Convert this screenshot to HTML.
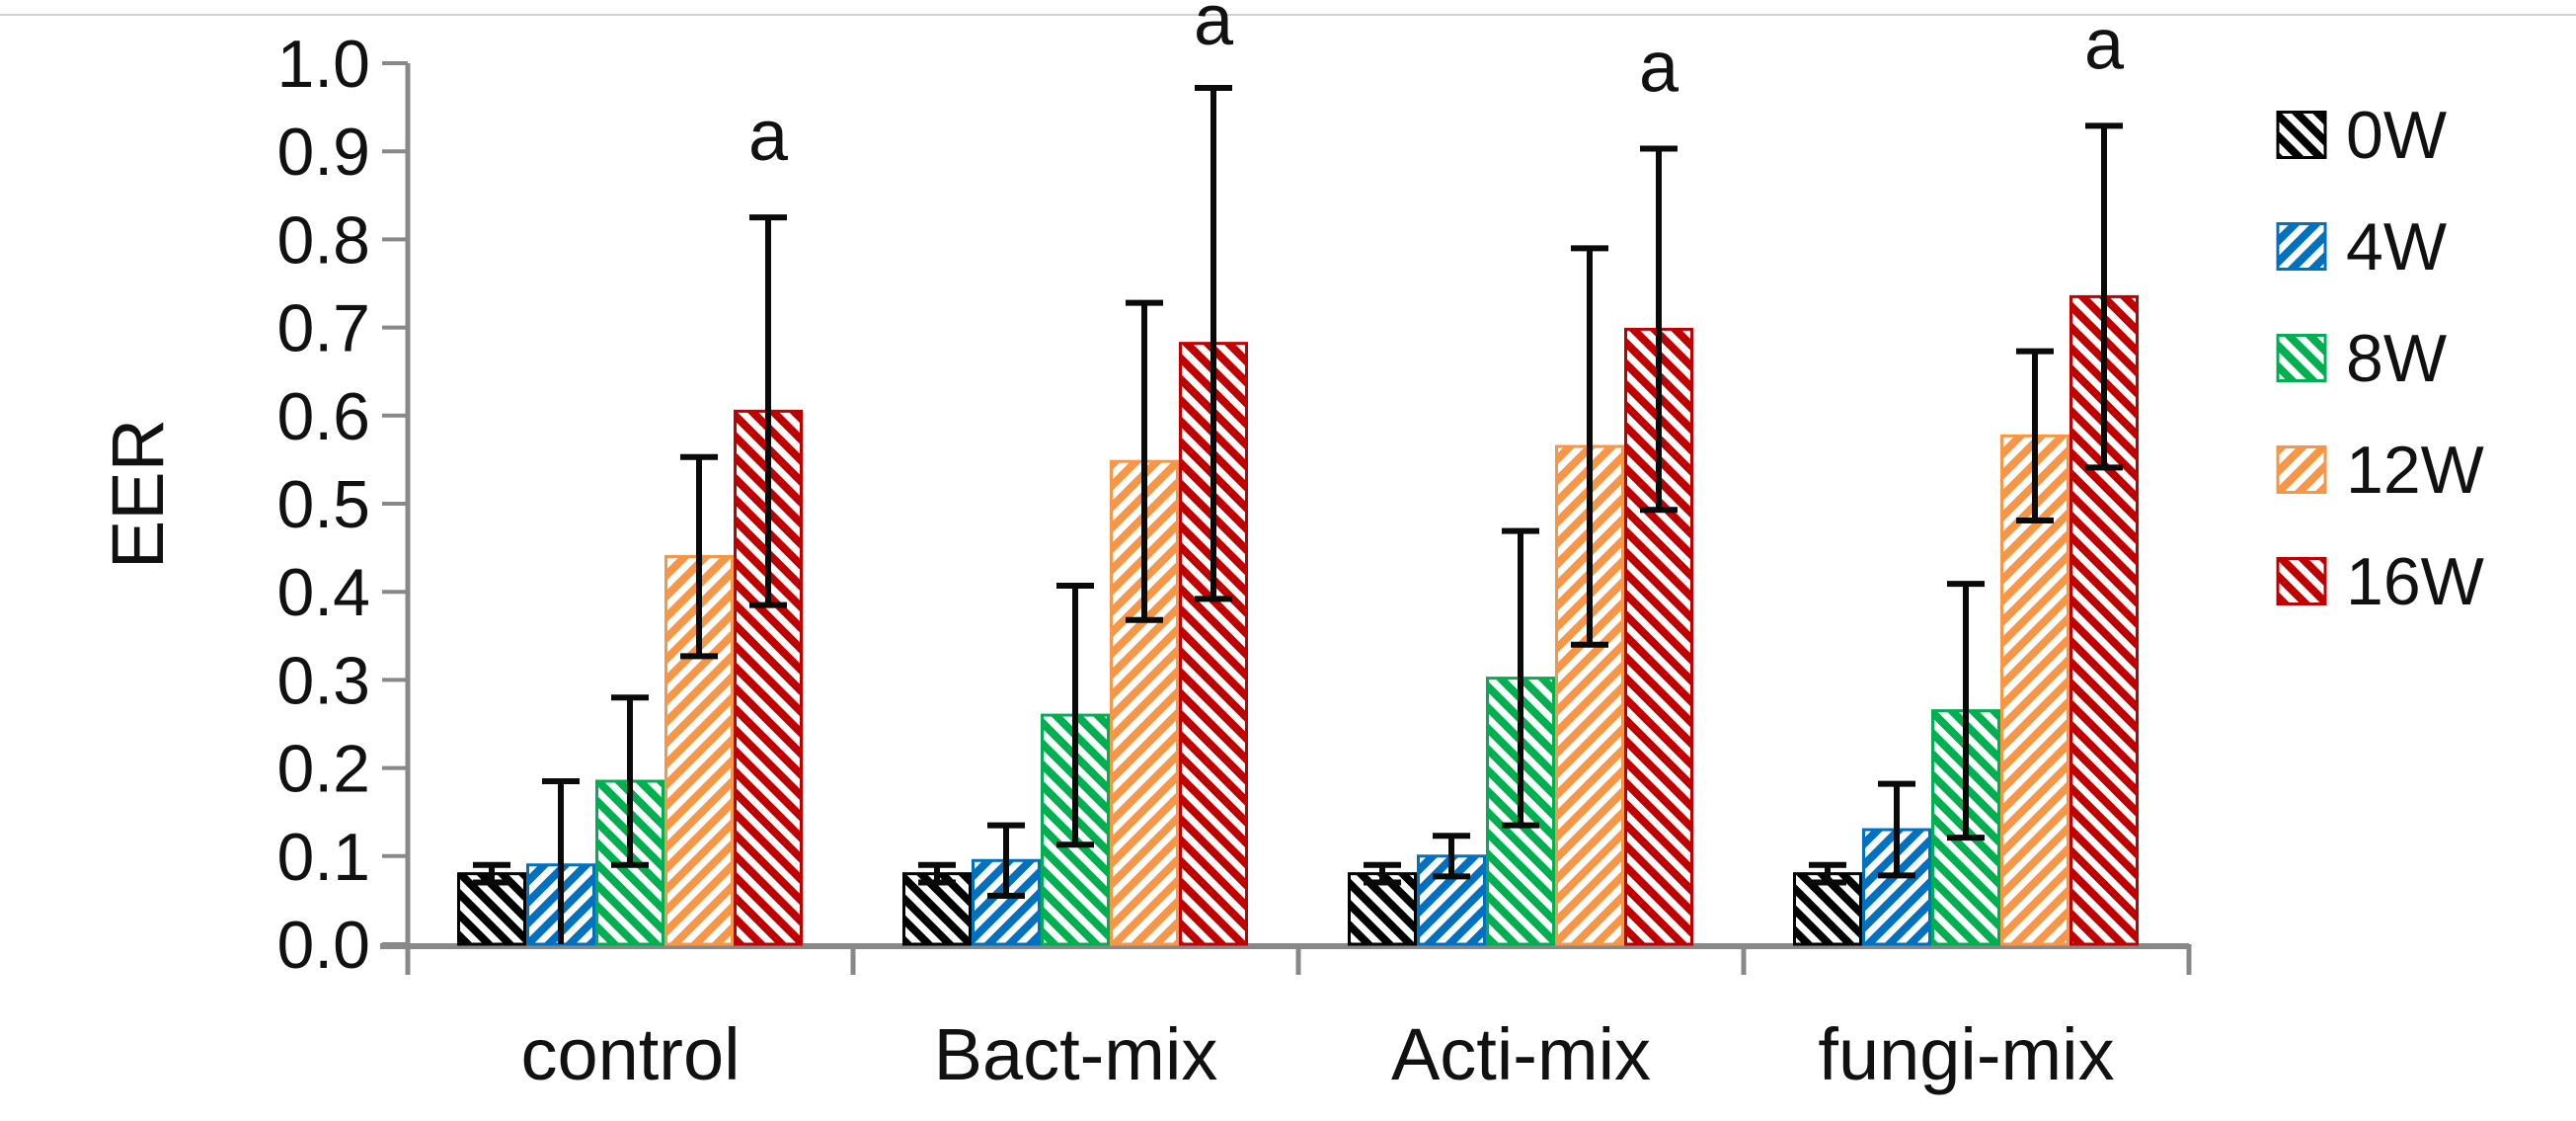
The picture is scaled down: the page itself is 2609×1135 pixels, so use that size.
<!DOCTYPE html>
<html><head><meta charset="utf-8">
<style>
html,body{margin:0;padding:0;background:#fff;}
svg{display:block;font-family:"Liberation Sans",sans-serif;}
</style></head>
<body>
<svg id="chart" width="2609" height="1135" viewBox="0 0 2609 1135" xmlns="http://www.w3.org/2000/svg">
<defs>
  <pattern id="p0" patternUnits="userSpaceOnUse" width="15" height="15" patternTransform="rotate(-45)"><rect width="15" height="15" fill="#fff"/><rect width="8" height="15" fill="#000"/></pattern>
  <pattern id="p1" patternUnits="userSpaceOnUse" width="15" height="15" patternTransform="rotate(45)"><rect width="15" height="15" fill="#fff"/><rect width="8" height="15" fill="#0070C0"/></pattern>
  <pattern id="p2" patternUnits="userSpaceOnUse" width="15" height="15" patternTransform="rotate(-45)"><rect width="15" height="15" fill="#fff"/><rect width="8" height="15" fill="#00B050"/></pattern>
  <pattern id="p3" patternUnits="userSpaceOnUse" width="15" height="15" patternTransform="rotate(45)"><rect width="15" height="15" fill="#fff"/><rect width="8" height="15" fill="#F79646"/></pattern>
  <pattern id="p4" patternUnits="userSpaceOnUse" width="15" height="15" patternTransform="rotate(-45)"><rect width="15" height="15" fill="#fff"/><rect width="8" height="15" fill="#C00000"/></pattern>
</defs>
<line x1="0" y1="15" x2="2609" y2="15" stroke="#d0d0d0" stroke-width="2"/>
<g id="g"></g>
</svg>
<script>
const categories = ["control", "Bact-mix", "Acti-mix", "fungi-mix"];
const seriesNames = ["0W", "4W", "8W", "12W", "16W"];
const v0W = [0.08, 0.08, 0.08, 0.08];
const v4W = [0.09, 0.095, 0.10, 0.13];
const v8W = [0.185, 0.26, 0.302, 0.265];
const v12W = [0.44, 0.548, 0.565, 0.577];
const v16W = [0.605, 0.682, 0.698, 0.735];
const e0W = [0.01, 0.01, 0.01, 0.01];
const e4W = [0.095, 0.04, 0.023, 0.052];
const e8W = [0.095, 0.147, 0.167, 0.144];
const e12W = [0.113, 0.18, 0.225, 0.096];
const e16W = [0.22, 0.29, 0.205, 0.194];
const sigLabels = ["a", "a", "a", "a"];
const yTicks = ["0.0","0.1","0.2","0.3","0.4","0.5","0.6","0.7","0.8","0.9","1.0"];

const values = [v0W, v4W, v8W, v12W, v16W];
const errs = [e0W, e4W, e8W, e12W, e16W];
const colors = ["#000000", "#0070C0", "#00B050", "#F79646", "#C00000"];
const NS = "http://www.w3.org/2000/svg";
const g = document.getElementById("g");
const X0 = 413, CW = 451, BW = 70, PAD = 50;
const Y0 = 956, YH = 892;
function y(v){ return Y0 - v * YH; }
function xBar(ci, si){ return X0 + ci * CW + PAD + si * BW; }
function mk(tag, attrs){ const e = document.createElementNS(NS, tag); for (const k in attrs) e.setAttribute(k, attrs[k]); g.appendChild(e); return e; }

let ax = mk("line", {x1: X0, y1: y(1.0), x2: X0, y2: Y0 + 2, stroke: "#888", "stroke-width": 5});


yTicks.forEach((t, i) => {
  const v = parseFloat(t);
  const tk = mk("line", {x1: X0 - 26, y1: y(v), x2: X0, y2: y(v), stroke: "#888", "stroke-width": 4});
  
  
  const tx = mk("text", {x: 375, y: y(v) + 24, "text-anchor": "end", "font-size": 68, fill: "#111"});
  tx.textContent = t;
  
  
});
let xa = mk("line", {x1: 385, y1: Y0 + 2, x2: X0 + CW * categories.length, y2: Y0 + 2, stroke: "#888", "stroke-width": 6});


for (let i = 0; i <= categories.length; i++) {
  const tk = mk("line", {x1: X0 + i * CW, y1: Y0, x2: X0 + i * CW, y2: Y0 + 31, stroke: "#888", "stroke-width": 5});
  
  
}
categories.forEach((c, i) => {
  const tx = mk("text", {x: X0 + i * CW + CW / 2, y: 1093, "text-anchor": "middle", "font-size": 74, fill: "#111"});
  tx.textContent = c;
  
  
});
const yl = mk("text", {x: 0, y: 0, "text-anchor": "middle", "font-size": 74, fill: "#111", transform: "translate(165,500) rotate(-90)"});
yl.textContent = "EER";



values.forEach((arr, si) => {
  arr.forEach((v, ci) => {
    const x = xBar(ci, si);
    const r = mk("rect", {x: x + 1.5, y: y(v), width: BW - 3, height: Y0 - y(v), fill: "url(#p" + si + ")", stroke: colors[si], "stroke-width": 3});
    
    
  });
});
values.forEach((arr, si) => {
  arr.forEach((v, ci) => {
    const cx = xBar(ci, si) + BW / 2;
    const lo = Math.max(0, v - errs[si][ci]), hi = v + errs[si][ci];
    const l = mk("line", {x1: cx, y1: y(hi), x2: cx, y2: y(lo), stroke: "#0a0a0a", "stroke-width": 6});
    
    
    const c1 = mk("line", {x1: cx - 19, y1: y(hi), x2: cx + 19, y2: y(hi), stroke: "#0a0a0a", "stroke-width": 6});
    
    
    if (lo > 0) {
      const c2 = mk("line", {x1: cx - 19, y1: y(lo), x2: cx + 19, y2: y(lo), stroke: "#0a0a0a", "stroke-width": 6});
      
      
    }
  });
});
sigLabels.forEach((s, ci) => {
  const cx = xBar(ci, 4) + BW / 2;
  const top = y(v16W[ci] + e16W[ci]);
  const t = mk("text", {x: cx, y: Math.max(45, top - 58), "text-anchor": "middle", "font-size": 72, fill: "#111"});
  t.textContent = s;
  
  
});
seriesNames.forEach((n, si) => {
  const yy = 112 + si * 113;
  const r = mk("rect", {x: 2307, y: yy + 1.5, width: 48, height: 46, fill: "url(#p" + si + ")", stroke: colors[si], "stroke-width": 3});
  
  
  const t = mk("text", {x: 2376, y: yy + 48, "font-size": 68, fill: "#111"});
  t.textContent = n;
  
  
});
</script>
</body></html>
